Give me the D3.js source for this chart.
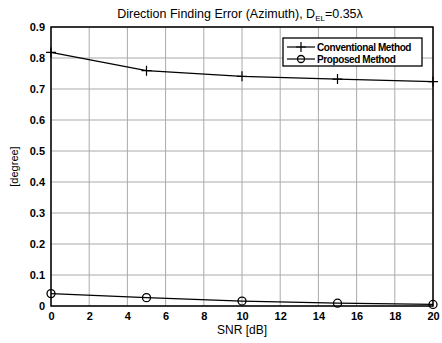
<!DOCTYPE html>
<html>
<head>
<meta charset="utf-8">
<script src="https://cdn.jsdelivr.net/npm/d3@7"></script>
<style>
  body { margin: 0; background: #fff; }
  text { font-family: "Liberation Sans", Arial, sans-serif; }
</style>
</head>
<body>
<svg id="chart"></svg>
<script>
// data
const snr = [0, 5, 10, 15, 20];
const conventional = [0.818, 0.759, 0.741, 0.732, 0.724];
const proposed = [0.040, 0.027, 0.016, 0.009, 0.005];
const xTicks = [0, 2, 4, 6, 8, 10, 12, 14, 16, 18, 20];
const yTicks = [0, 0.1, 0.2, 0.3, 0.4, 0.5, 0.6, 0.7, 0.8, 0.9];

const width = 442, height = 343;
const margin = {left: 51, right: 9, top: 27, bottom: 37};

const svg = d3.select('#chart')
    .attr('width', width)
    .attr('height', height);

const x = d3.scaleLinear()
    .domain([0, 20])
    .range([margin.left, width - margin.right]);

const y = d3.scaleLinear()
    .domain([0, 0.9])
    .range([height - margin.bottom, margin.top]);

// grid
svg.append('g')
    .selectAll('line')
    .data(xTicks)
    .join('line')
    .attr('x1', d => x(d)).attr('x2', d => x(d))
    .attr('y1', y(0)).attr('y2', y(0.9))
    .attr('stroke', '#aaa').attr('stroke-width', 1);

svg.append('g')
    .selectAll('line')
    .data(yTicks)
    .join('line')
    .attr('x1', x(0)).attr('x2', x(20))
    .attr('y1', d => y(d)).attr('y2', d => y(d))
    .attr('stroke', '#aaa').attr('stroke-width', 1);

// axes
const xAxis = d3.axisBottom(x).tickValues(xTicks).tickSize(0).tickPadding(6);
const yAxis = d3.axisLeft(y).tickValues(yTicks).tickSize(0).tickPadding(6)
    .tickFormat(d => d === 0 ? '0' : d3.format('.1f')(d));

svg.append('g')
    .attr('transform', `translate(0,${y(0)})`)
    .call(xAxis)
    .call(g => g.select('.domain').remove())
    .selectAll('text')
    .attr('font-size', 11).attr('font-weight', 'bold').attr('fill', '#000');

svg.append('g')
    .attr('transform', `translate(${x(0)},0)`)
    .call(yAxis)
    .call(g => g.select('.domain').remove())
    .selectAll('text')
    .attr('font-size', 11).attr('font-weight', 'bold').attr('fill', '#000');

// box
svg.append('rect')
    .attr('x', x(0)).attr('y', y(0.9))
    .attr('width', x(20) - x(0)).attr('height', y(0) - y(0.9))
    .attr('fill', 'none').attr('stroke', '#000').attr('stroke-width', 1.5);

// lines
const line = d3.line()
    .x((d, i) => x(snr[i]))
    .y(d => y(d));

svg.append('path')
    .attr('d', line(conventional))
    .attr('fill', 'none').attr('stroke', '#000').attr('stroke-width', 1.2);

svg.append('path')
    .attr('d', line(proposed))
    .attr('fill', 'none').attr('stroke', '#000').attr('stroke-width', 1.2);

// markers
svg.append('g')
    .selectAll('path')
    .data(conventional)
    .join('path')
    .attr('d', (d, i) => `M${x(snr[i]) - 5},${y(d)}h10M${x(snr[i])},${y(d) - 5}v10`)
    .attr('stroke', '#000').attr('stroke-width', 1.2);

svg.append('g')
    .selectAll('circle')
    .data(proposed)
    .join('circle')
    .attr('cx', (d, i) => x(snr[i]))
    .attr('cy', d => y(d))
    .attr('r', 4)
    .attr('fill', 'none').attr('stroke', '#000').attr('stroke-width', 1.3);

// title
const title = svg.append('text')
    .attr('x', 240).attr('y', 18)
    .attr('text-anchor', 'middle')
    .attr('font-size', 12.5);
title.append('tspan').text('Direction Finding Error (Azimuth), D');
title.append('tspan').attr('font-size', 8).attr('dy', 3).text('EL');
title.append('tspan').attr('dy', -3).text('=0.35\u03bb');

// axis labels
svg.append('text')
    .attr('x', x(10)).attr('y', 334)
    .attr('text-anchor', 'middle')
    .attr('font-size', 12)
    .text('SNR [dB]');

svg.append('text')
    .attr('transform', `translate(18,${y(0.45)}) rotate(-90)`)
    .attr('text-anchor', 'middle')
    .attr('font-size', 11)
    .text('[degree]');

// legend
const legend = svg.append('g').attr('transform', 'translate(283,38)');
legend.append('rect')
    .attr('width', 139).attr('height', 28)
    .attr('fill', '#fff').attr('stroke', '#000').attr('stroke-width', 1.3);

const legendItems = ['Conventional Method', 'Proposed Method'];
legendItems.forEach((name, i) => {
    const yy = 9 + i * 12;
    legend.append('line')
        .attr('x1', 4).attr('x2', 32).attr('y1', yy).attr('y2', yy)
        .attr('stroke', '#000').attr('stroke-width', 1.2);
    if (i === 0) {
        legend.append('path')
            .attr('d', `M13,${yy}h10M18,${yy - 5}v10`)
            .attr('stroke', '#000').attr('stroke-width', 1.2);
    } else {
        legend.append('circle')
            .attr('cx', 18).attr('cy', yy).attr('r', 3.5)
            .attr('fill', 'none').attr('stroke', '#000').attr('stroke-width', 1.3);
    }
    legend.append('text')
        .attr('x', 34).attr('y', yy + 4)
        .attr('font-size', 10).attr('font-weight', 'bold')
        .attr('letter-spacing', -0.4)
        .text(name);
});
</script>
</body>
</html>
